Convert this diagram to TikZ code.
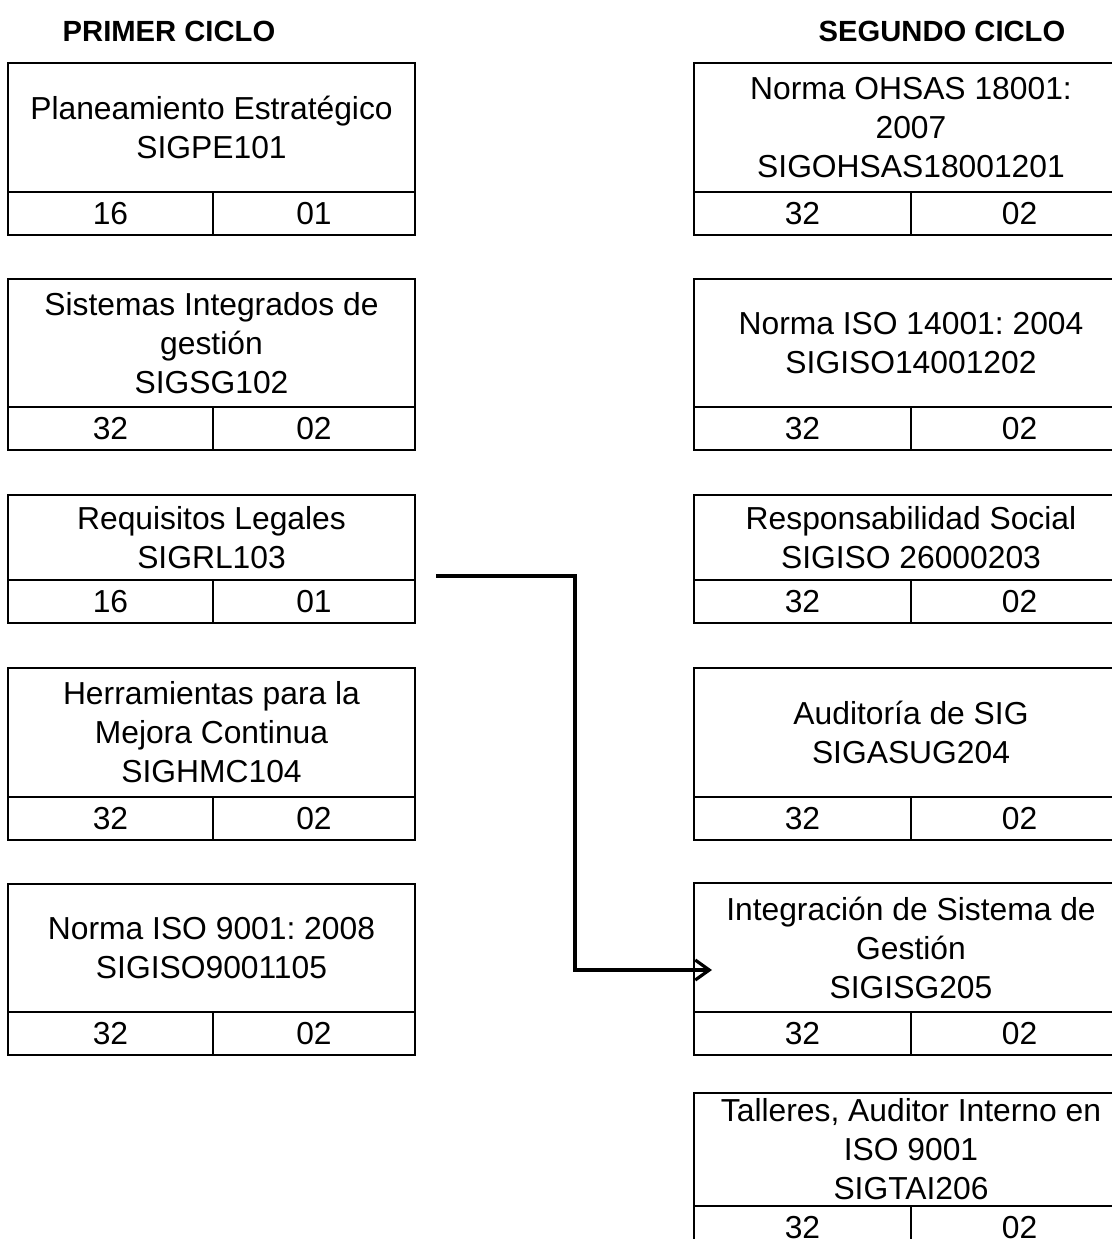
\documentclass[tikz,border=0pt]{standalone}
\usepackage{fontspec}
\setmainfont{Liberation Sans}
\frenchspacing
\usetikzlibrary{positioning,arrows.meta}
\begin{document}
\begin{tikzpicture}[x=0.5pt,y=-0.5pt,
    encabezado/.style={font=\bfseries\fontsize{14.6}{16}\selectfont},
    titulo/.style={draw,line width=1.2pt,align=center,anchor=north west,
        inner sep=0pt,outer sep=0pt,font=\fontsize{15.9}{19.5}\selectfont},
    celda/.style={draw,line width=1.2pt,anchor=north west,minimum height=21.5pt,
        inner sep=0pt,outer sep=0pt,font=\fontsize{15.9}{18}\selectfont},
    izq/.style={titulo,minimum width=203.5pt},
    der/.style={titulo,minimum width=217pt}]
    \useasboundingbox (0,0) rectangle (1112,1239);
    \node[encabezado] (primer) at (169,31) {PRIMER CICLO};
    \node[encabezado] (segundo) at (942,31) {SEGUNDO CICLO};
    % primer ciclo
    \node[izq,minimum height=64.5pt] (l1) at (8,63) {Planeamiento Estratégico\\SIGPE101};
    \node[celda,minimum width=102.5pt] (l1a) at (l1.south west) {16};
    \node[celda,minimum width=101pt] (l1b) at (l1a.north east) {01};
    \node[izq,minimum height=64pt] (l2) at (8,279) {Sistemas Integrados de\\gestión\\SIGSG102};
    \node[celda,minimum width=102.5pt] (l2a) at (l2.south west) {32};
    \node[celda,minimum width=101pt] (l2b) at (l2a.north east) {02};
    \node[izq,minimum height=42.5pt] (l3) at (8,495) {Requisitos Legales\\SIGRL103};
    \node[celda,minimum width=102.5pt] (l3a) at (l3.south west) {16};
    \node[celda,minimum width=101pt] (l3b) at (l3a.north east) {01};
    \node[izq,minimum height=64.5pt] (l4) at (8,668) {Herramientas para la\\Mejora Continua\\SIGHMC104};
    \node[celda,minimum width=102.5pt] (l4a) at (l4.south west) {32};
    \node[celda,minimum width=101pt] (l4b) at (l4a.north east) {02};
    \node[izq,minimum height=64pt] (l5) at (8,884) {Norma ISO 9001: 2008\\SIGISO9001105};
    \node[celda,minimum width=102.5pt] (l5a) at (l5.south west) {32};
    \node[celda,minimum width=101pt] (l5b) at (l5a.north east) {02};
    % segundo ciclo
    \node[der,minimum height=64.5pt] (r1) at (694,63) {Norma OHSAS 18001:\\2007\\SIGOHSAS18001201};
    \node[celda,minimum width=108.5pt] (r1a) at (r1.south west) {32};
    \node[celda,minimum width=108.5pt] (r1b) at (r1a.north east) {02};
    \node[der,minimum height=64pt] (r2) at (694,279) {Norma ISO 14001: 2004\\SIGISO14001202};
    \node[celda,minimum width=108.5pt] (r2a) at (r2.south west) {32};
    \node[celda,minimum width=108.5pt] (r2b) at (r2a.north east) {02};
    \node[der,minimum height=42.5pt] (r3) at (694,495) {Responsabilidad Social\\SIGISO 26000203};
    \node[celda,minimum width=108.5pt] (r3a) at (r3.south west) {32};
    \node[celda,minimum width=108.5pt] (r3b) at (r3a.north east) {02};
    \node[der,minimum height=64.5pt] (r4) at (694,668) {Auditoría de SIG\\SIGASUG204};
    \node[celda,minimum width=108.5pt] (r4a) at (r4.south west) {32};
    \node[celda,minimum width=108.5pt] (r4b) at (r4a.north east) {02};
    \node[der,minimum height=64.5pt] (r5) at (694,883) {Integración de Sistema de\\Gestión\\SIGISG205};
    \node[celda,minimum width=108.5pt] (r5a) at (r5.south west) {32};
    \node[celda,minimum width=108.5pt] (r5b) at (r5a.north east) {02};
    \node[der,minimum height=56.5pt] (r6) at (694,1093) {Talleres, Auditor Interno en\\ISO 9001\\SIGTAI206};
    \node[celda,minimum width=108.5pt] (r6a) at (r6.south west) {32};
    \node[celda,minimum width=108.5pt] (r6b) at (r6a.north east) {02};
    % flecha
    \coordinate (desde) at (436,576);
    \coordinate (codo) at (575,970);
    \coordinate (hasta) at (712,970);
    \draw[line width=1.6pt,-{Straight Barb[length=7pt,width=10pt]}] (desde) -| (codo) -- (hasta);
\end{tikzpicture}
\end{document}
